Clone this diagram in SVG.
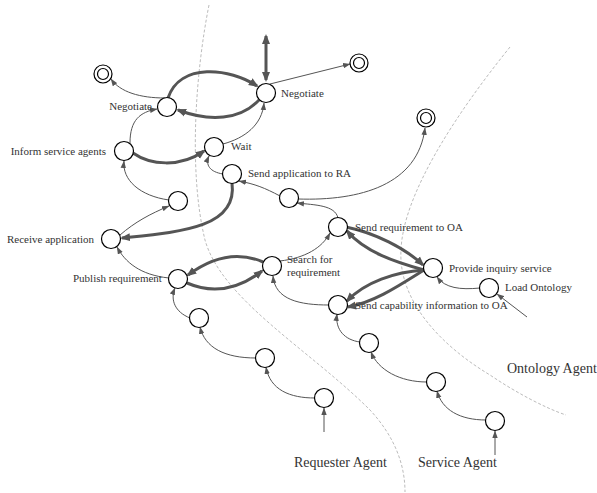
<svg xmlns="http://www.w3.org/2000/svg" width="597" height="493" viewBox="0 0 597 493">
<style>
.bg{fill:#fff}
.node{fill:#fff;stroke:#000;stroke-width:1.2}
.lbl{font-family:"Liberation Serif","Times New Roman",serif;font-size:11px;fill:#333}
.big{font-family:"Liberation Serif","Times New Roman",serif;font-size:14px;fill:#333}
.bound{fill:none;stroke:#aaa;stroke-width:0.8;stroke-dasharray:3,2}
.thin{fill:none;stroke:#555;stroke-width:1;marker-end:url(#ah)}
.thick{fill:none;stroke:#555;stroke-width:3;marker-end:url(#ahb)}
</style>
<defs>
<marker id="ah" markerUnits="userSpaceOnUse" markerWidth="8" markerHeight="6" refX="7" refY="3" orient="auto"><path d="M0,0.3 L7.5,3 L0,5.7 z" fill="#555"/></marker>
<marker id="ahb" markerUnits="userSpaceOnUse" markerWidth="11" markerHeight="9" refX="8" refY="4.5" orient="auto-start-reverse"><path d="M0,0.5 L10,4.5 L0,8.5 z" fill="#555"/></marker>
</defs>
<rect class="bg" width="597" height="493"/>
<g id="boundaries">
<path class="bound" d="M209,5 C196,70 188,170 205,240 C222,300 310,350 370,410 C395,437 405,465 405,492"/>
<path class="bound" d="M510,47 C455,115 403,195 401,250 C398,300 440,345 490,375 C515,392 545,408 566,415"/>
</g>
<g id="connectors">
<path class="thin" d="M165,98 C140,98 120,92 111,79"/>
<path class="thin" d="M130,143 C130,120 140,112 157,109"/>
<path class="thick" d="M133,153 C150,165 180,168 204,151"/>
<path class="thick" d="M168,98 C180,62 230,68 257,86"/>
<path class="thick" d="M259,100 C240,120 210,122 178,110"/>
<path class="thin" d="M223,144 C245,138 262,125 264,103"/>
<path class="thick" d="M266,36 L266,80" style="marker-start:url(#ahb)"/>
<path class="thin" d="M270,84 L350,64"/>
<path class="thin" d="M223,174 C210,172 205,165 209,156"/>
<path class="thin" d="M280,196 C265,188 255,184 239,181"/>
<path class="thin" d="M298,199 C360,201 418,185 425,128"/>
<path class="thick" d="M232,183 C238,228 180,232 122,238"/>
<path class="thin" d="M169,200 C140,196 122,180 124,161"/>
<path class="thin" d="M120,235 C135,222 150,214 169,206"/>
<path class="thin" d="M169,278 C140,275 125,262 117,247"/>
<path class="thick" d="M263,262 C240,252 215,255 188,275"/>
<path class="thick" d="M187,283 C215,295 240,288 262,271"/>
<path class="thin" d="M190,318 C175,312 170,300 175,288"/>
<path class="thin" d="M280,261 C305,258 322,248 330,233"/>
<path class="thin" d="M338,218 C335,205 315,205 297,203"/>
<path class="thin" d="M329,305 C300,305 275,300 273,276"/>
<path class="thick" d="M346,227 C375,233 405,248 423,265"/>
<path class="thick" d="M424,270 C395,262 365,252 347,231"/>
<path class="thick" d="M424,270 C395,272 365,282 347,301"/>
<path class="thick" d="M424,270 C400,285 375,302 348,307"/>
<path class="thin" d="M480,288 C460,290 445,288 437,277"/>
<path class="thin" d="M527,317 L497,294"/>
<path class="thin" d="M360,342 C345,340 335,330 337,314"/>
<path class="thin" d="M427,382 C400,382 378,370 371,352"/>
<path class="thin" d="M486,420 C460,420 442,410 437,391"/>
<path class="thin" d="M495,455 L495,431"/>
<path class="thin" d="M256,358 C225,358 205,348 200,327"/>
<path class="thin" d="M315,398 C290,398 270,390 266,367"/>
<path class="thin" d="M324,432 L324,408"/>
</g>
<g id="final1"><circle class="node" cx="103" cy="74" r="9"/><circle class="node" cx="103" cy="74" r="5.5"/></g>
<g id="final2"><circle class="node" cx="359" cy="63" r="9"/><circle class="node" cx="359" cy="63" r="5.5"/></g>
<g id="final3"><circle class="node" cx="426" cy="118" r="9"/><circle class="node" cx="426" cy="118" r="5.5"/></g>
<g id="negotiate1"><circle class="node" cx="167" cy="107" r="9.5"/><text class="lbl" x="152" y="110" text-anchor="end">Negotiate</text></g>
<g id="negotiate2"><circle class="node" cx="266" cy="93" r="9.5"/><text class="lbl" x="281" y="97">Negotiate</text></g>
<g id="inform"><circle class="node" cx="124" cy="151" r="9.5"/><text class="lbl" x="106" y="155" text-anchor="end">Inform service agents</text></g>
<g id="wait"><circle class="node" cx="214" cy="147" r="9.5"/><text class="lbl" x="231" y="150">Wait</text></g>
<g id="sendapp"><circle class="node" cx="232" cy="174" r="9.5"/><text class="lbl" x="248" y="177">Send application to RA</text></g>
<g id="nodeA"><circle class="node" cx="289" cy="198" r="9.5"/></g>
<g id="nodeB"><circle class="node" cx="178" cy="201" r="9.5"/></g>
<g id="receive"><circle class="node" cx="111" cy="239" r="9.5"/><text class="lbl" x="94" y="243" text-anchor="end">Receive application</text></g>
<g id="publish"><circle class="node" cx="178" cy="279" r="9.5"/><text class="lbl" x="73" y="282">Publish requirement</text></g>
<g id="search"><circle class="node" cx="272" cy="266" r="9.5"/><text class="lbl" x="287" y="263">Search for</text><text class="lbl" x="287" y="276">requirement</text></g>
<g id="sendreq"><circle class="node" cx="338" cy="227" r="9.5"/><text class="lbl" x="355" y="231">Send requirement to OA</text></g>
<g id="sendcap"><circle class="node" cx="338" cy="305" r="9.5"/><text class="lbl" x="355" y="309">Send capability information to OA</text></g>
<g id="provide"><circle class="node" cx="433" cy="268" r="9.5"/><text class="lbl" x="449" y="272">Provide inquiry service</text></g>
<g id="load"><circle class="node" cx="489" cy="288" r="9.5"/><text class="lbl" x="505" y="291">Load Ontology</text></g>
<g id="nodeC"><circle class="node" cx="199" cy="318" r="9.5"/></g>
<g id="nodeD"><circle class="node" cx="265" cy="358" r="9.5"/></g>
<g id="nodeE"><circle class="node" cx="324" cy="398" r="9.5"/></g>
<g id="nodeF"><circle class="node" cx="369" cy="343" r="9.5"/></g>
<g id="nodeG"><circle class="node" cx="436" cy="382" r="9.5"/></g>
<g id="nodeH"><circle class="node" cx="495" cy="421" r="9.5"/></g>
<g id="regions">
<text class="big" x="294" y="467">Requester Agent</text>
<text class="big" x="418" y="467">Service Agent</text>
<text class="big" x="507" y="373">Ontology Agent</text>
</g>
</svg>
